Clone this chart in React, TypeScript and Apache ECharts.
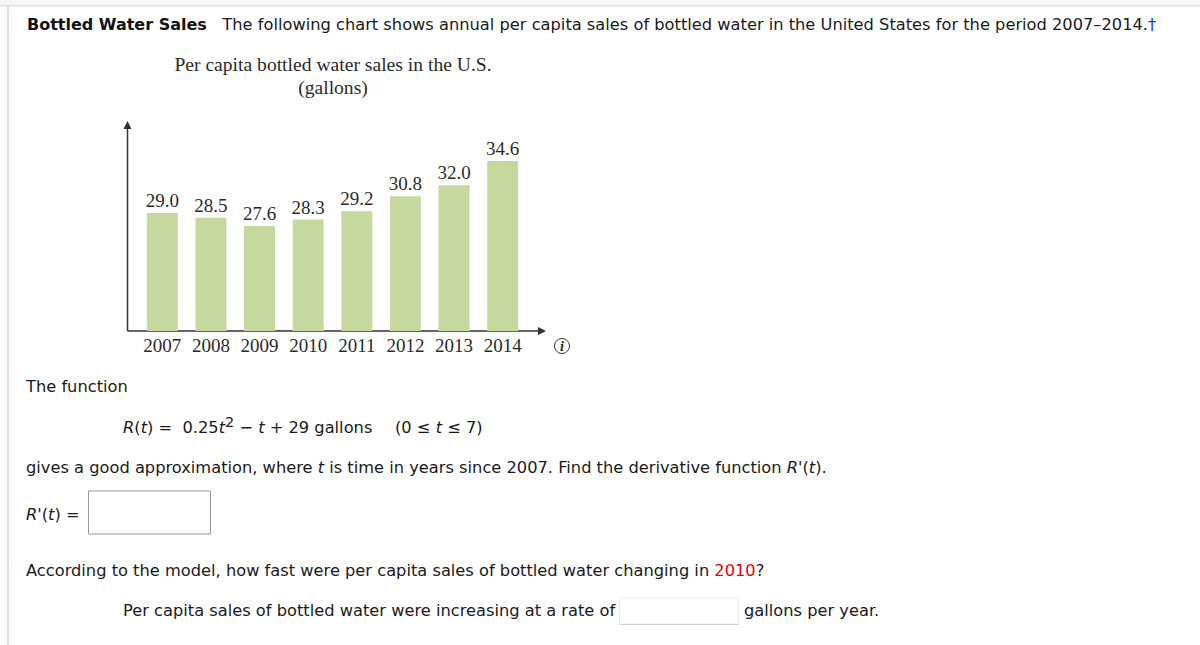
import React, { useEffect, useRef } from "react";
import * as echarts from "echarts";

const years = ["2007", "2008", "2009", "2010", "2011", "2012", "2013", "2014"];
const sales = [29.0, 28.5, 27.6, 28.3, 29.2, 30.8, 32.0, 34.6];
const chartTitle = "Per capita bottled water sales in the U.S.";
const chartUnit = "(gallons)";

const SANS = "'DejaVu Sans', Verdana, sans-serif";
const SERIF = "'Liberation Serif', serif";
const INK = "#1a1a1a";
const SIZE = 16.25;

const runStyles = {
  b: { fontFamily: SANS, fontSize: 16, fontWeight: "bold", fill: "#111" },
  i: { fontFamily: SANS, fontSize: SIZE, fontStyle: "italic", fill: INK },
  sup: { fontFamily: SANS, fontSize: 14.5, fill: INK, verticalAlign: "top", padding: [0, 0, 10, 0] },
  dag: { fontFamily: SANS, fontSize: SIZE, fill: "#1a3fc4" },
  red: { fontFamily: SANS, fontSize: SIZE, fill: "#f00000" },
};

function line(text: string, x: number, y: number) {
  return {
    type: "text",
    x,
    y,
    style: {
      text,
      fontFamily: SANS,
      fontSize: SIZE,
      fill: INK,
      verticalAlign: "middle",
      rich: runStyles,
    },
  };
}

function serifText(text: string, x: number, y: number, size: number) {
  return {
    type: "text",
    x,
    y,
    style: { text, fontFamily: SERIF, fontSize: size, fill: "#2b2b2b", align: "center", verticalAlign: "middle" },
  };
}

export default function App() {
  const ref = useRef<HTMLDivElement>(null);
  useEffect(() => {
    const chart = echarts.init(ref.current!, null, { renderer: "svg" });
    chart.setOption({
      animation: false,
      backgroundColor: "#ffffff",
      grid: { left: 138, top: 122, width: 389, height: 209 },
      xAxis: {
        type: "category",
        data: years,
        axisLine: { show: false },
        axisTick: { show: false },
        axisLabel: { fontFamily: SERIF, fontSize: 19, color: "#2b2b2b", margin: 5, interval: 0 },
      },
      yAxis: { type: "value", min: 16.3, max: 38.8, show: false, splitLine: { show: false } },
      series: [
        {
          type: "bar",
          data: sales,
          barWidth: 31,
          itemStyle: { color: "#c5d99e" },
          label: {
            show: true,
            position: "top",
            distance: 3,
            fontFamily: SERIF,
            fontSize: 19,
            color: "#2b2b2b",
            formatter: (p: any) => p.value.toFixed(1),
          },
        },
      ],
      graphic: [
        { type: "rect", shape: { x: 0, y: 0, width: 1200, height: 5 }, style: { fill: "#f7f7f7" } },
        { type: "rect", shape: { x: 0, y: 5, width: 1200, height: 1.5 }, style: { fill: "#dedede" } },
        { type: "rect", shape: { x: 7, y: 5, width: 2, height: 640 }, style: { fill: "#dedede" } },
        line("{b|Bottled Water Sales}   The following chart shows annual per capita sales of bottled water in the United States for the period 2007–2014.{dag|†}", 27, 24),
        serifText(chartTitle, 333, 64, 19.6),
        serifText(chartUnit, 333, 87, 19.6),
        { type: "line", shape: { x1: 127.5, y1: 331, x2: 127.5, y2: 126 }, style: { stroke: "#333", lineWidth: 1.5 } },
        { type: "polygon", shape: { points: [[127.5, 121], [123.5, 129], [131.5, 129]] }, style: { fill: "#333" } },
        { type: "line", shape: { x1: 127.5, y1: 331, x2: 541, y2: 331 }, style: { stroke: "#333", lineWidth: 1.5 } },
        { type: "polygon", shape: { points: [[546, 331], [538, 327], [538, 335]] }, style: { fill: "#333" } },
        { type: "circle", shape: { cx: 562, cy: 346, r: 7.5 }, style: { fill: "#fff", stroke: "#333", lineWidth: 1 } },
        { type: "text", x: 562, y: 346, style: { text: "i", fontFamily: SERIF, fontSize: 14, fontStyle: "italic", fontWeight: "bold", fill: "#222", align: "center", verticalAlign: "middle" } },
        line("The function", 26, 386),
        line("{i|R}({i|t}) =  0.25{i|t}{sup|2} − {i|t} + 29 gallons", 123, 427),
        line("(0 ≤ {i|t} ≤ 7)", 395, 427),
        line("gives a good approximation, where {i|t} is time in years since 2007. Find the derivative function {i|R}'({i|t}).", 26, 467),
        line("{i|R}'({i|t}) =", 26, 514),
        { type: "rect", shape: { x: 88.5, y: 491, width: 122, height: 43 }, style: { fill: "#fff", stroke: "#9a9a9a", lineWidth: 1 } },
        line("According to the model, how fast were per capita sales of bottled water changing in {red|2010}?", 26, 570),
        line("Per capita sales of bottled water were increasing at a rate of", 123, 610),
        { type: "rect", shape: { x: 619.5, y: 598, width: 119, height: 26 }, style: { fill: "#fff", stroke: "#ececec", lineWidth: 1 } },
        { type: "line", shape: { x1: 619.5, y1: 624.5, x2: 738.5, y2: 624.5 }, style: { stroke: "#cfcfcf", lineWidth: 1 } },
        line("gallons per year.", 744, 610),
      ],
    });
    return () => chart.dispose();
  }, []);
  return <div ref={ref} style={{ position: "absolute", left: 0, top: 0, width: 1200, height: 645 }} />;
}
